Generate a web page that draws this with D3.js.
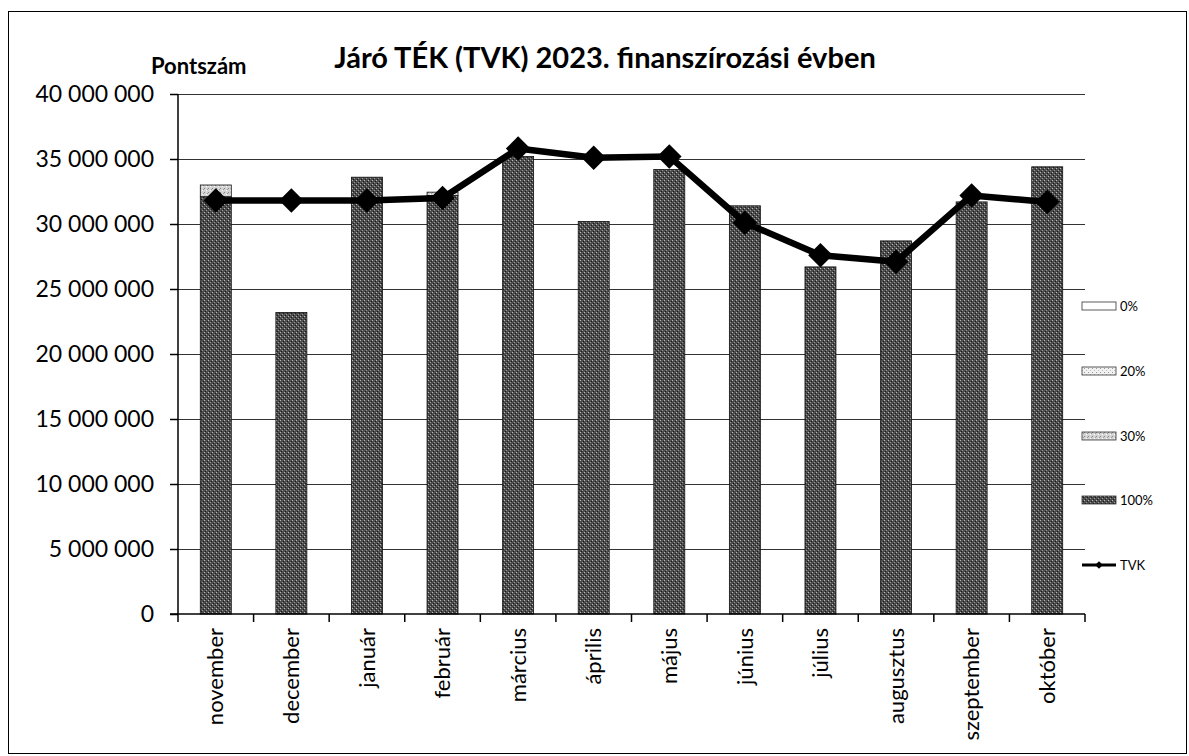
<!DOCTYPE html>
<html>
<head>
  <meta charset="utf-8">
  <title>Járó TÉK (TVK) 2023</title>
  <style>
    body { margin: 0; background: #fff; }
    text { font-family: Lato, "Open Sans", sans-serif; fill: #000; }
  </style>
</head>
<body>
<script src="https://cdnjs.cloudflare.com/ajax/libs/d3/7.8.5/d3.min.js"></script>
<script>
// data
const months = ["november", "december", "január", "február", "március", "április",
  "május", "június", "július", "augusztus", "szeptember", "október"];
const pct0   = [0, 0, 0, 0, 0, 0, 0, 0, 0, 0, 0, 0];
const pct20  = [0, 0, 0, 0, 0, 0, 0, 0, 0, 0, 0, 0];
const pct30  = [900000, 0, 0, 250000, 0, 0, 0, 0, 0, 0, 0, 0];
const pct100 = [32100000, 23200000, 33600000, 32200000, 35200000, 30200000,
  34200000, 31400000, 26700000, 28700000, 31700000, 34400000];
const tvk = [31800000, 31800000, 31800000, 32000000, 35800000, 35100000,
  35200000, 30100000, 27600000, 27100000, 32200000, 31700000];
const yTicks = [0, 5000000, 10000000, 15000000, 20000000, 25000000, 30000000, 35000000, 40000000];
const seriesNames = ["0%", "20%", "30%", "100%"];

const width = 1189, height = 756;
const svg = d3.select("body").append("svg")
  .attr("width", width)
  .attr("height", height);

// hatch-like fills
const defs = svg.append("defs");
function pat(id, bg, dots) {
  const p = defs.append("pattern").attr("id", id)
    .attr("width", 4).attr("height", 4).attr("patternUnits", "userSpaceOnUse");
  p.append("rect").attr("width", 4).attr("height", 4).attr("fill", bg);
  dots.forEach(d => p.append("rect").attr("x", d[0]).attr("y", d[1])
    .attr("width", 1).attr("height", 1).attr("fill", d[2]));
}
pat("p0", "#fff", []);
pat("p20", "#f2f2f2", [[0, 0, "#999"], [2, 2, "#bbb"]]);
pat("p30", "#d4d4d4", [[0, 0, "#888"], [2, 2, "#fff"], [3, 1, "#999"]]);
pat("p100", "#4d4d4d", [[0, 0, "#bbb"], [2, 2, "#999"], [1, 3, "#1a1a1a"], [3, 1, "#1a1a1a"]]);
const fills = ["url(#p0)", "url(#p20)", "url(#p30)", "url(#p100)"];

// frame
svg.append("rect").attr("x", 8.5).attr("y", 11.5)
  .attr("width", 1178).attr("height", 742)
  .attr("fill", "none").attr("stroke", "#000").attr("stroke-width", 1);

const plotL = 178, plotR = 1085, plotT = 94, plotB = 614;

const x = d3.scaleBand().domain(months).range([plotL, plotR]);
const y = d3.scaleLinear().domain([0, 40000000]).range([plotB, plotT]);

// gridlines
svg.append("g").selectAll("line")
  .data(yTicks.slice(1))
  .enter().append("line")
  .attr("x1", plotL).attr("x2", plotR)
  .attr("y1", d => y(d) + 0.5).attr("y2", d => y(d) + 0.5)
  .attr("stroke", "#333").attr("stroke-width", 1);

// stacked bars
const rows = months.map((m, i) => ({ month: m, "0%": pct0[i], "20%": pct20[i], "30%": pct30[i], "100%": pct100[i] }));
const stack = d3.stack().keys(["100%", "30%", "20%", "0%"])(rows);
const barW = x.bandwidth() * 0.41;

svg.append("g").selectAll("g")
  .data(stack)
  .enter().append("g")
  .attr("fill", d => fills[seriesNames.indexOf(d.key)])
  .selectAll("rect")
  .data(d => d.filter(s => s[1] > s[0]))
  .enter().append("rect")
  .attr("x", d => x(d.data.month) + (x.bandwidth() - barW) / 2)
  .attr("y", d => y(d[1]))
  .attr("width", barW)
  .attr("height", d => y(d[0]) - y(d[1]))
  .attr("stroke", "#111").attr("stroke-width", 0.8);

// y axis
const yAxis = d3.axisLeft(y).tickValues(yTicks).tickSize(8).tickPadding(16)
  .tickFormat(d => d3.format(",")(d).replace(/,/g, " "));
const ya = svg.append("g").attr("transform", `translate(${plotL},0)`).call(yAxis);
ya.selectAll("text").style("font-size", "23px");
ya.selectAll("line, path").attr("stroke", "#000").attr("stroke-width", 1.5);
ya.select(".domain").attr("d", `M0,${plotT}V${plotB}`);

// x axis
const xa = svg.append("g").attr("transform", `translate(0,${plotB})`)
  .call(d3.axisBottom(x).tickSize(0).tickPadding(0));
xa.select(".domain").attr("stroke", "#000").attr("stroke-width", 1.5)
  .attr("d", `M${plotL - 8},0H${plotR}`);
xa.selectAll(".tick text")
  .attr("transform", "rotate(-90)")
  .attr("text-anchor", "end")
  .attr("x", -14).attr("y", 0).attr("dy", "0.35em")
  .style("font-size", "22px");
xa.append("g").selectAll("line")
  .data(months.concat(["end"]))
  .enter().append("line")
  .attr("x1", (d, i) => plotL + i * x.bandwidth())
  .attr("x2", (d, i) => plotL + i * x.bandwidth())
  .attr("y1", 0).attr("y2", 8)
  .attr("stroke", "#000").attr("stroke-width", 1.5);

// TVK line
const cx = m => x(m) + x.bandwidth() / 2;
svg.append("path")
  .datum(tvk)
  .attr("fill", "none").attr("stroke", "#000").attr("stroke-width", 6.5)
  .attr("stroke-linejoin", "round")
  .attr("d", d3.line().x((d, i) => cx(months[i])).y(d => y(d)));
const diamond = d3.symbol().type(d3.symbolSquare).size(300);
svg.append("g").selectAll("path")
  .data(tvk)
  .enter().append("path")
  .attr("d", diamond)
  .attr("transform", (d, i) => `translate(${cx(months[i])},${y(d)}) rotate(45)`)
  .attr("fill", "#000");

// titles
svg.append("text").attr("x", 605).attr("y", 68)
  .attr("text-anchor", "middle")
  .style("font-size", "29px").style("font-weight", "bold")
  .text("Járó TÉK (TVK) 2023. finanszírozási évben");
svg.append("text").attr("x", 151).attr("y", 74)
  .style("font-size", "22px").style("font-weight", "bold")
  .text("Pontszám");

// legend
const legY = [306, 371, 436, 500, 565];
const leg = svg.append("g");
seriesNames.forEach((s, i) => {
  leg.append("rect").attr("x", 1082).attr("y", legY[i] - 4)
    .attr("width", 34).attr("height", 8)
    .attr("fill", fills[i]).attr("stroke", "#333").attr("stroke-width", 0.8);
  leg.append("text").attr("x", 1120).attr("y", legY[i]).attr("dy", "0.35em")
    .style("font-size", "13px").text(s);
});
leg.append("line").attr("x1", 1082).attr("x2", 1116)
  .attr("y1", legY[4]).attr("y2", legY[4])
  .attr("stroke", "#000").attr("stroke-width", 3);
leg.append("path").attr("d", d3.symbol().type(d3.symbolSquare).size(30))
  .attr("transform", `translate(1099,${legY[4]}) rotate(45)`).attr("fill", "#000");
leg.append("text").attr("x", 1120).attr("y", legY[4]).attr("dy", "0.35em")
  .style("font-size", "13px").text("TVK");
</script>
</body>
</html>
